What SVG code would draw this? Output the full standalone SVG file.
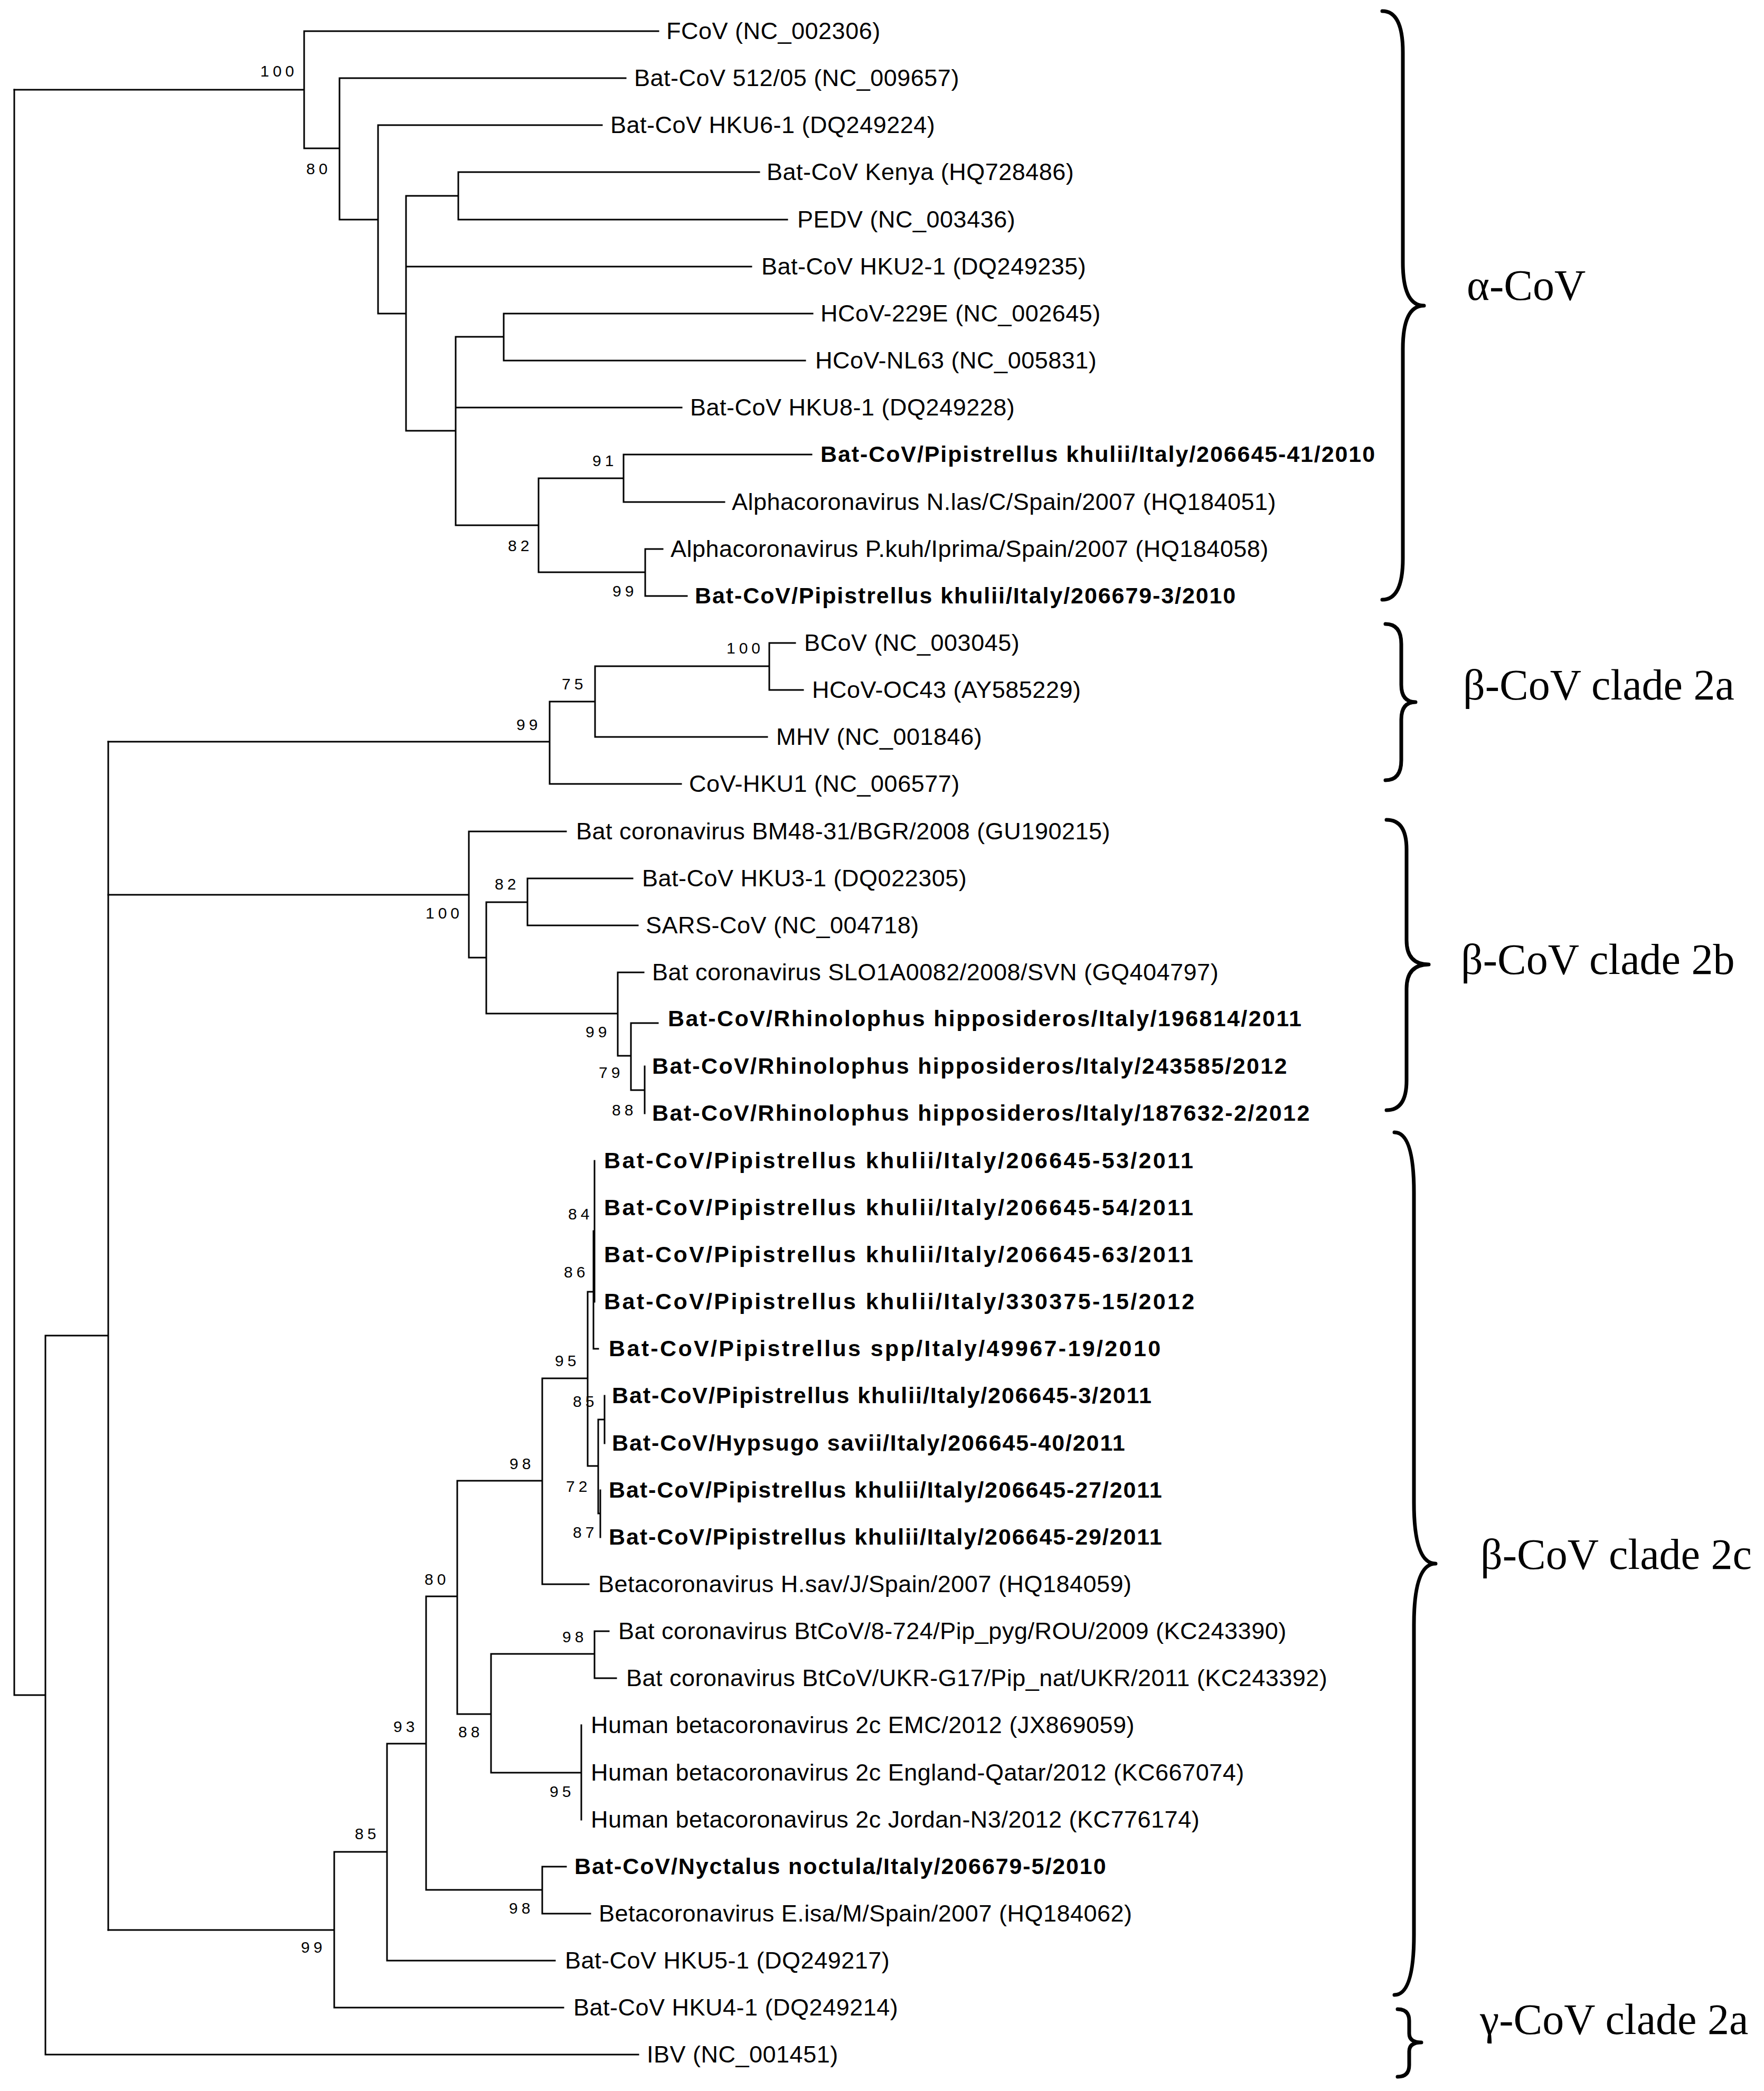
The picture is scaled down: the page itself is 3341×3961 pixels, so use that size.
<svg xmlns="http://www.w3.org/2000/svg" width="3341" height="3961" viewBox="0 0 3341 3961">
<style>
.br{fill:none;stroke:#000;stroke-width:3;stroke-linecap:square}
.t{font-family:"Liberation Sans",Arial,sans-serif;font-size:45px;letter-spacing:0.5px;fill:#000}
.b{font-family:"Liberation Sans",Arial,sans-serif;font-size:43px;font-weight:bold;letter-spacing:1.9px;fill:#000}
.bw{letter-spacing:2.35px}
.bx{letter-spacing:3.35px}
.bs{font-family:"Liberation Sans",Arial,sans-serif;font-size:30px;letter-spacing:7px;fill:#000}
.cl{font-family:"Liberation Serif","Times New Roman",serif;font-size:82px;fill:#000}
.brace{fill:none;stroke:#000;stroke-width:7;stroke-linecap:round;stroke-linejoin:round}
</style>
<rect width="3341" height="3961" fill="#fff"/>
<g id="connectors">
<path class="br" d="M27,170 H576 M576,59 V281 M576,59 H1247 M576,281 H643 M643,148 V416 M643,148 H1185 M643,416 H716 M716,237 V594 M716,237 H1140 M716,594 H769 M769,371 V816 M769,371 H868 M868,326 V416 M868,326 H1438 M868,416 H1491 M769,505 H1423 M769,816 H863 M863,638 V995 M863,638 H954 M954,594 V683 M954,594 H1539 M954,683 H1525 M863,772 H1291 M863,995 H1020 M1020,906 V1084 M1020,906 H1181 M1181,861 V951 M1181,861 H1537 M1181,951 H1372 M1020,1084 H1222 M1222,1040 V1129 M1222,1040 H1255 M1222,1129 H1301"/>
<path class="br" d="M27,170 V3211 M27,3211 H86 M86,2530 V3892 M86,3892 H1209 M86,2530 H205 M205,1405 V3656"/>
<path class="br" d="M205,1405 H1041 M1041,1329 V1485 M1041,1485 H1290 M1041,1329 H1127 M1127,1262 V1396 M1127,1396 H1453 M1127,1262 H1457 M1457,1218 V1307 M1457,1218 H1506 M1457,1307 H1521"/>
<path class="br" d="M205,1695 H888 M888,1575 V1814 M888,1575 H1072 M888,1814 H921 M921,1709 V1920 M921,1709 H999 M999,1664 V1753 M999,1664 H1198 M999,1753 H1208 M921,1920 H1170 M1170,1842 V2000 M1170,1842 H1219 M1170,2000 H1195 M1195,1938 V2065 M1195,1938 H1246 M1195,2065 H1221 M1221,2020 V2109"/>
<path class="br" d="M205,3656 H633 M633,3508 V3803 M633,3803 H1067 M633,3508 H733 M733,3303 V3714 M733,3714 H1051 M733,3303 H807 M807,3024 V3580 M807,3580 H1027 M1027,3536 V3625 M1027,3536 H1072 M1027,3625 H1118 M807,3024 H866 M866,2805 V3247 M866,3247 H930 M930,3133 V3358 M930,3133 H1126 M1126,3090 V3179 M1126,3090 H1153 M1126,3179 H1167 M930,3358 H1101 M1101,3268 V3447 M866,2805 H1027 M1027,2611 V3001 M1027,3001 H1115 M1027,2611 H1113 M1113,2447 V2777 M1113,2447 H1124 M1126,2199 V2466 M1124,2332 V2555 M1124,2555 H1133 M1113,2777 H1133 M1133,2689 V2867 M1133,2689 H1145 M1145,2644 V2734 M1133,2867 H1137 M1137,2823 V2912"/>
</g>
<g id="bootstrap">
<text class="bs" x="493" y="145">100</text>
<text class="bs" x="580" y="330">80</text>
<text class="bs" x="1122" y="883">91</text>
<text class="bs" x="962" y="1044">82</text>
<text class="bs" x="1160" y="1130">99</text>
<text class="bs" x="1376" y="1238">100</text>
<text class="bs" x="1064" y="1306">75</text>
<text class="bs" x="978" y="1383">99</text>
<text class="bs" x="806" y="1740">100</text>
<text class="bs" x="937" y="1685">82</text>
<text class="bs" x="1109" y="1965">99</text>
<text class="bs" x="1134" y="2042">79</text>
<text class="bs" x="1159" y="2113">88</text>
<text class="bs" x="1076" y="2310">84</text>
<text class="bs" x="1068" y="2420">86</text>
<text class="bs" x="1051" y="2588">95</text>
<text class="bs" x="1085" y="2665">85</text>
<text class="bs" x="1072" y="2826">72</text>
<text class="bs" x="1085" y="2913">87</text>
<text class="bs" x="965" y="2783">98</text>
<text class="bs" x="804" y="3002">80</text>
<text class="bs" x="1065" y="3111">98</text>
<text class="bs" x="868" y="3291">88</text>
<text class="bs" x="1041" y="3404">95</text>
<text class="bs" x="745" y="3281">93</text>
<text class="bs" x="964" y="3625">98</text>
<text class="bs" x="672" y="3484">85</text>
<text class="bs" x="570" y="3699">99</text>
</g>
<g id="leaf-fcov"><text class="t" x="1262" y="74">FCoV (NC_002306)</text></g>
<g id="leaf-bat51205"><text class="t" x="1201" y="163">Bat-CoV 512/05 (NC_009657)</text></g>
<g id="leaf-hku6"><text class="t" x="1156" y="252">Bat-CoV HKU6-1 (DQ249224)</text></g>
<g id="leaf-kenya"><text class="t" x="1452" y="341">Bat-CoV Kenya (HQ728486)</text></g>
<g id="leaf-pedv"><text class="t" x="1510" y="431">PEDV (NC_003436)</text></g>
<g id="leaf-hku2"><text class="t" x="1442" y="520">Bat-CoV HKU2-1 (DQ249235)</text></g>
<g id="leaf-229e"><text class="t" x="1554" y="609">HCoV-229E (NC_002645)</text></g>
<g id="leaf-nl63"><text class="t" x="1544" y="698">HCoV-NL63 (NC_005831)</text></g>
<g id="leaf-hku8"><text class="t" x="1307" y="787">Bat-CoV HKU8-1 (DQ249228)</text></g>
<g id="leaf-pk41"><text class="b" x="1554" y="875">Bat-CoV/Pipistrellus khulii/Italy/206645-41/2010</text></g>
<g id="leaf-nlas"><text class="t" x="1386" y="966">Alphacoronavirus N.las/C/Spain/2007 (HQ184051)</text></g>
<g id="leaf-pkuh"><text class="t" x="1270" y="1055">Alphacoronavirus P.kuh/Iprima/Spain/2007 (HQ184058)</text></g>
<g id="leaf-pk3"><text class="b" x="1316" y="1143">Bat-CoV/Pipistrellus khulii/Italy/206679-3/2010</text></g>
<g id="leaf-bcov"><text class="t" x="1523" y="1233">BCoV (NC_003045)</text></g>
<g id="leaf-oc43"><text class="t" x="1538" y="1322">HCoV-OC43 (AY585229)</text></g>
<g id="leaf-mhv"><text class="t" x="1470" y="1411">MHV (NC_001846)</text></g>
<g id="leaf-hku1"><text class="t" x="1305" y="1500">CoV-HKU1 (NC_006577)</text></g>
<g id="leaf-bm48"><text class="t" x="1091" y="1590">Bat coronavirus BM48-31/BGR/2008 (GU190215)</text></g>
<g id="leaf-hku3"><text class="t" x="1216" y="1679">Bat-CoV HKU3-1 (DQ022305)</text></g>
<g id="leaf-sars"><text class="t" x="1223" y="1768">SARS-CoV (NC_004718)</text></g>
<g id="leaf-slo"><text class="t" x="1235" y="1857">Bat coronavirus SLO1A0082/2008/SVN (GQ404797)</text></g>
<g id="leaf-rh196814"><text class="b bw" x="1265" y="1944">Bat-CoV/Rhinolophus hipposideros/Italy/196814/2011</text></g>
<g id="leaf-rh243585"><text class="b bw" x="1235" y="2034">Bat-CoV/Rhinolophus hipposideros/Italy/243585/2012</text></g>
<g id="leaf-rh187632"><text class="b bw" x="1235" y="2123">Bat-CoV/Rhinolophus hipposideros/Italy/187632-2/2012</text></g>
<g id="leaf-pk53"><text class="b bx" x="1144" y="2213">Bat-CoV/Pipistrellus khulii/Italy/206645-53/2011</text></g>
<g id="leaf-pk54"><text class="b bx" x="1144" y="2302">Bat-CoV/Pipistrellus khulii/Italy/206645-54/2011</text></g>
<g id="leaf-pk63"><text class="b bx" x="1144" y="2391">Bat-CoV/Pipistrellus khulii/Italy/206645-63/2011</text></g>
<g id="leaf-pk330375"><text class="b bx" x="1144" y="2480">Bat-CoV/Pipistrellus khulii/Italy/330375-15/2012</text></g>
<g id="leaf-pspp"><text class="b bx" x="1153" y="2569">Bat-CoV/Pipistrellus spp/Italy/49967-19/2010</text></g>
<g id="leaf-pk3-2011"><text class="b" x="1159" y="2658">Bat-CoV/Pipistrellus khulii/Italy/206645-3/2011</text></g>
<g id="leaf-hsav40"><text class="b" x="1159" y="2748">Bat-CoV/Hypsugo savii/Italy/206645-40/2011</text></g>
<g id="leaf-pk27"><text class="b" x="1153" y="2837">Bat-CoV/Pipistrellus khulii/Italy/206645-27/2011</text></g>
<g id="leaf-pk29"><text class="b" x="1153" y="2926">Bat-CoV/Pipistrellus khulii/Italy/206645-29/2011</text></g>
<g id="leaf-hsavj"><text class="t" x="1133" y="3016">Betacoronavirus H.sav/J/Spain/2007 (HQ184059)</text></g>
<g id="leaf-8724"><text class="t" x="1171" y="3105">Bat coronavirus BtCoV/8-724/Pip_pyg/ROU/2009 (KC243390)</text></g>
<g id="leaf-ukr"><text class="t" x="1186" y="3194">Bat coronavirus BtCoV/UKR-G17/Pip_nat/UKR/2011 (KC243392)</text></g>
<g id="leaf-emc"><text class="t" x="1119" y="3283">Human betacoronavirus 2c EMC/2012 (JX869059)</text></g>
<g id="leaf-england"><text class="t" x="1119" y="3373">Human betacoronavirus 2c England-Qatar/2012 (KC667074)</text></g>
<g id="leaf-jordan"><text class="t" x="1119" y="3462">Human betacoronavirus 2c Jordan-N3/2012 (KC776174)</text></g>
<g id="leaf-nyctalus"><text class="b" x="1088" y="3550">Bat-CoV/Nyctalus noctula/Italy/206679-5/2010</text></g>
<g id="leaf-eisa"><text class="t" x="1134" y="3640">Betacoronavirus E.isa/M/Spain/2007 (HQ184062)</text></g>
<g id="leaf-hku5"><text class="t" x="1070" y="3729">Bat-CoV HKU5-1 (DQ249217)</text></g>
<g id="leaf-hku4"><text class="t" x="1086" y="3818">Bat-CoV HKU4-1 (DQ249214)</text></g>
<g id="leaf-ibv"><text class="t" x="1225" y="3907">IBV (NC_001451)</text></g>
<g id="clade-alpha">
<path class="brace" d="M2618,21 Q2657,21 2657,99 L2657,497 Q2657,579 2697,579 Q2657,579 2657,661 L2657,1058 Q2657,1136 2618,1136"/>
<text class="cl" x="2778" y="568">α-CoV</text>
</g>
<g id="clade-beta-2a">
<path class="brace" d="M2624,1182 Q2654,1182 2654,1220 L2654,1297 Q2654,1330 2681,1330 Q2654,1330 2654,1363 L2654,1440 Q2654,1478 2624,1478"/>
<text class="cl" x="2771" y="1325">β-CoV clade 2a</text>
</g>
<g id="clade-beta-2b">
<path class="brace" d="M2626,1553 Q2664,1553 2664,1609 L2664,1781 Q2664,1827 2706,1827 Q2664,1827 2664,1873 L2664,2047 Q2664,2103 2626,2103"/>
<text class="cl" x="2767" y="1845">β-CoV clade 2b</text>
</g>
<g id="clade-beta-2c">
<path class="brace" d="M2641,2145 Q2678,2145 2678,2259 L2678,2846 Q2678,2962 2719,2962 Q2678,2962 2678,3078 L2678,3665 Q2678,3779 2641,3779"/>
<text class="cl" x="2804" y="2972">β-CoV clade 2c</text>
</g>
<g id="clade-gamma">
<path class="brace" d="M2647,3806 Q2669,3806 2669,3828 L2669,3852 Q2669,3869 2692,3869 Q2669,3869 2669,3886 L2669,3912 Q2669,3934 2647,3934"/>
<text class="cl" x="2803" y="3853">γ-CoV clade 2a</text>
</g>
</svg>
